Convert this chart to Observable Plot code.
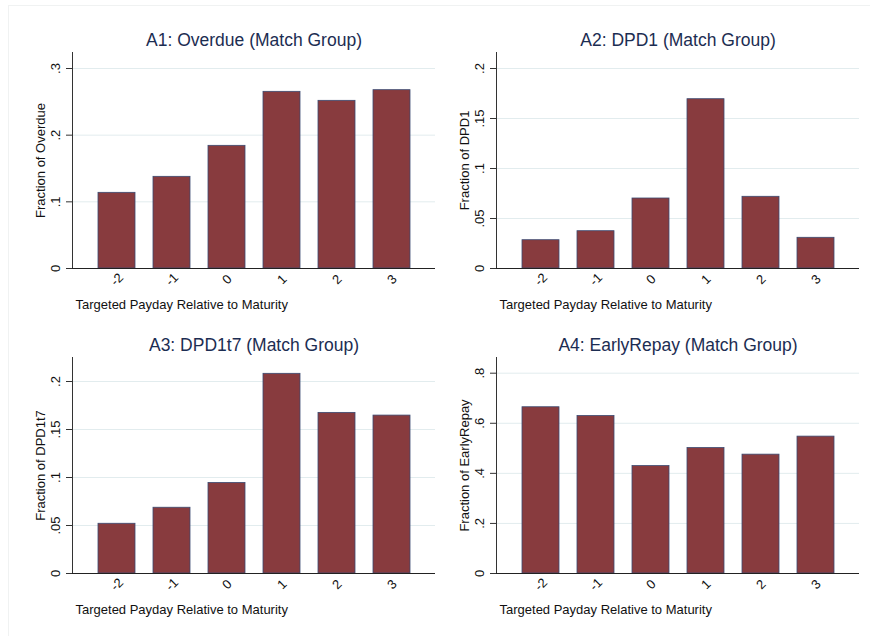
<!DOCTYPE html>
<html>
<head>
<meta charset="utf-8">
<script src="https://cdn.jsdelivr.net/npm/d3@7"></script>
<script src="https://cdn.jsdelivr.net/npm/@observablehq/plot@0.6"></script>
<style>
  body { margin: 0; background: #fff; }
  #fig { position: relative; width: 870px; height: 636px; background: #fff; overflow: hidden; }
  #fig .edge { position: absolute; left: 8px; top: 5px; right: 0; bottom: 0;
               border-top: 1px solid #f0f2f2; border-left: 1px solid #f0f2f2; }
  #fig .panel { position: absolute; }
</style>
</head>
<body>
<div id="fig"><div class="edge"></div></div>
<script>
// Targeted payday offsets (categories on the x axis)
const paydays = ["-2", "-1", "0", "1", "2", "3"];

// Fraction of loans with each outcome, by targeted payday
const overdue    = [0.1135, 0.1375, 0.184, 0.265, 0.2515, 0.2675];
const dpd1       = [0.0283, 0.0373, 0.070, 0.1693, 0.0717, 0.0307];
const dpd1t7     = [0.0518, 0.0685, 0.0943, 0.208, 0.1673, 0.1645];
const earlyRepay = [0.664, 0.629, 0.429, 0.501, 0.4747, 0.5467];

// Y tick values for each panel
const ticksOverdue = [0, 0.1, 0.2, 0.3];
const ticksDpd1    = [0, 0.05, 0.1, 0.15, 0.2];
const ticksDpd1t7  = [0, 0.05, 0.1, 0.15, 0.2];
const ticksEarly   = [0, 0.2, 0.4, 0.6, 0.8];

const titles = [
  "A1: Overdue (Match Group)",
  "A2: DPD1 (Match Group)",
  "A3: DPD1t7 (Match Group)",
  "A4: EarlyRepay (Match Group)"
];
const yLabels = ["Fraction of Overdue", "Fraction of DPD1", "Fraction of DPD1t7", "Fraction of EarlyRepay"];
const xLabel = "Targeted Payday Relative to Maturity";

const font = "'Liberation Sans', Arial, Helvetica, sans-serif";
const barFill = "#883b3e";
const barStroke = "#3b4a72";
const titleColor = "#1c2d52";

// Stata-style number labels: drop the leading zero
const fmt = d => d === 0 ? "0" : String(+d.toFixed(3)).replace(/^0\./, ".");

function panel({values, ticks, yMax, title, yLabel, left, top, marginLeft, marginRight, marginTop, marginBottom}) {
  const rows = paydays.map((p, i) => ({payday: p, value: values[i]}));
  const chart = Plot.plot({
    width: 435,
    height: 318,
    marginLeft, marginRight, marginTop, marginBottom,
    style: {fontFamily: font, fontSize: "13px", color: "#111", background: "transparent"},
    x: {domain: paydays, paddingInner: 0.33, paddingOuter: 0.42, axis: null},
    y: {domain: [0, yMax], axis: null},
    marks: [
      Plot.gridY(ticks.filter(t => t > 0), {stroke: "#e2ecee", strokeOpacity: 1, strokeWidth: 1}),
      Plot.barY(rows, {x: "payday", y: "value", fill: barFill, stroke: barStroke, strokeWidth: 0.8}),
      Plot.axisY({ticks, tickSize: 6, tickFormat: () => "", stroke: "#333", label: null}),
      Plot.text(ticks, {y: d => d, text: fmt, frameAnchor: "left", dx: -17, rotate: -90,
                        textAnchor: "middle", lineAnchor: "middle", fontSize: 13, fill: "#111"}),
      Plot.frame({anchor: "left", stroke: "#333"}),
      Plot.ruleY([0], {stroke: "#222"}),
      Plot.text(paydays, {x: d => d, text: d => d, frameAnchor: "bottom", dy: 11, rotate: -45,
                          textAnchor: "middle", lineAnchor: "middle", fontSize: 13, fill: "#111"}),
      Plot.text([xLabel], {frameAnchor: "bottom-left", dx: 3, dy: 36, textAnchor: "start",
                           lineAnchor: "middle", fontSize: 13, fill: "#111"}),
      Plot.text([yLabel], {frameAnchor: "left", dx: -32, rotate: -90, textAnchor: "middle",
                           lineAnchor: "middle", fontSize: 13, fill: "#111"}),
      Plot.text([title], {frameAnchor: "top", dy: -12, textAnchor: "middle", lineAnchor: "middle",
                          fontSize: 17.5, fill: titleColor})
    ]
  });
  chart.classList.add("panel");
  chart.style.left = left + "px";
  chart.style.top = top + "px";
  document.getElementById("fig").appendChild(chart);
}

panel({values: overdue, ticks: ticksOverdue, yMax: 0.324, title: titles[0], yLabel: yLabels[0],
       left: 0, top: 0, marginLeft: 72, marginRight: 0, marginTop: 52, marginBottom: 50});
panel({values: dpd1, ticks: ticksDpd1, yMax: 0.216, title: titles[1], yLabel: yLabels[1],
       left: 435, top: 0, marginLeft: 61, marginRight: 11, marginTop: 52, marginBottom: 50});
panel({values: dpd1t7, ticks: ticksDpd1t7, yMax: 0.225, title: titles[2], yLabel: yLabels[2],
       left: 0, top: 318, marginLeft: 72, marginRight: 0, marginTop: 39, marginBottom: 63});
panel({values: earlyRepay, ticks: ticksEarly, yMax: 0.8627, title: titles[3], yLabel: yLabels[3],
       left: 435, top: 318, marginLeft: 61, marginRight: 11, marginTop: 39, marginBottom: 63});
</script>
</body>
</html>
